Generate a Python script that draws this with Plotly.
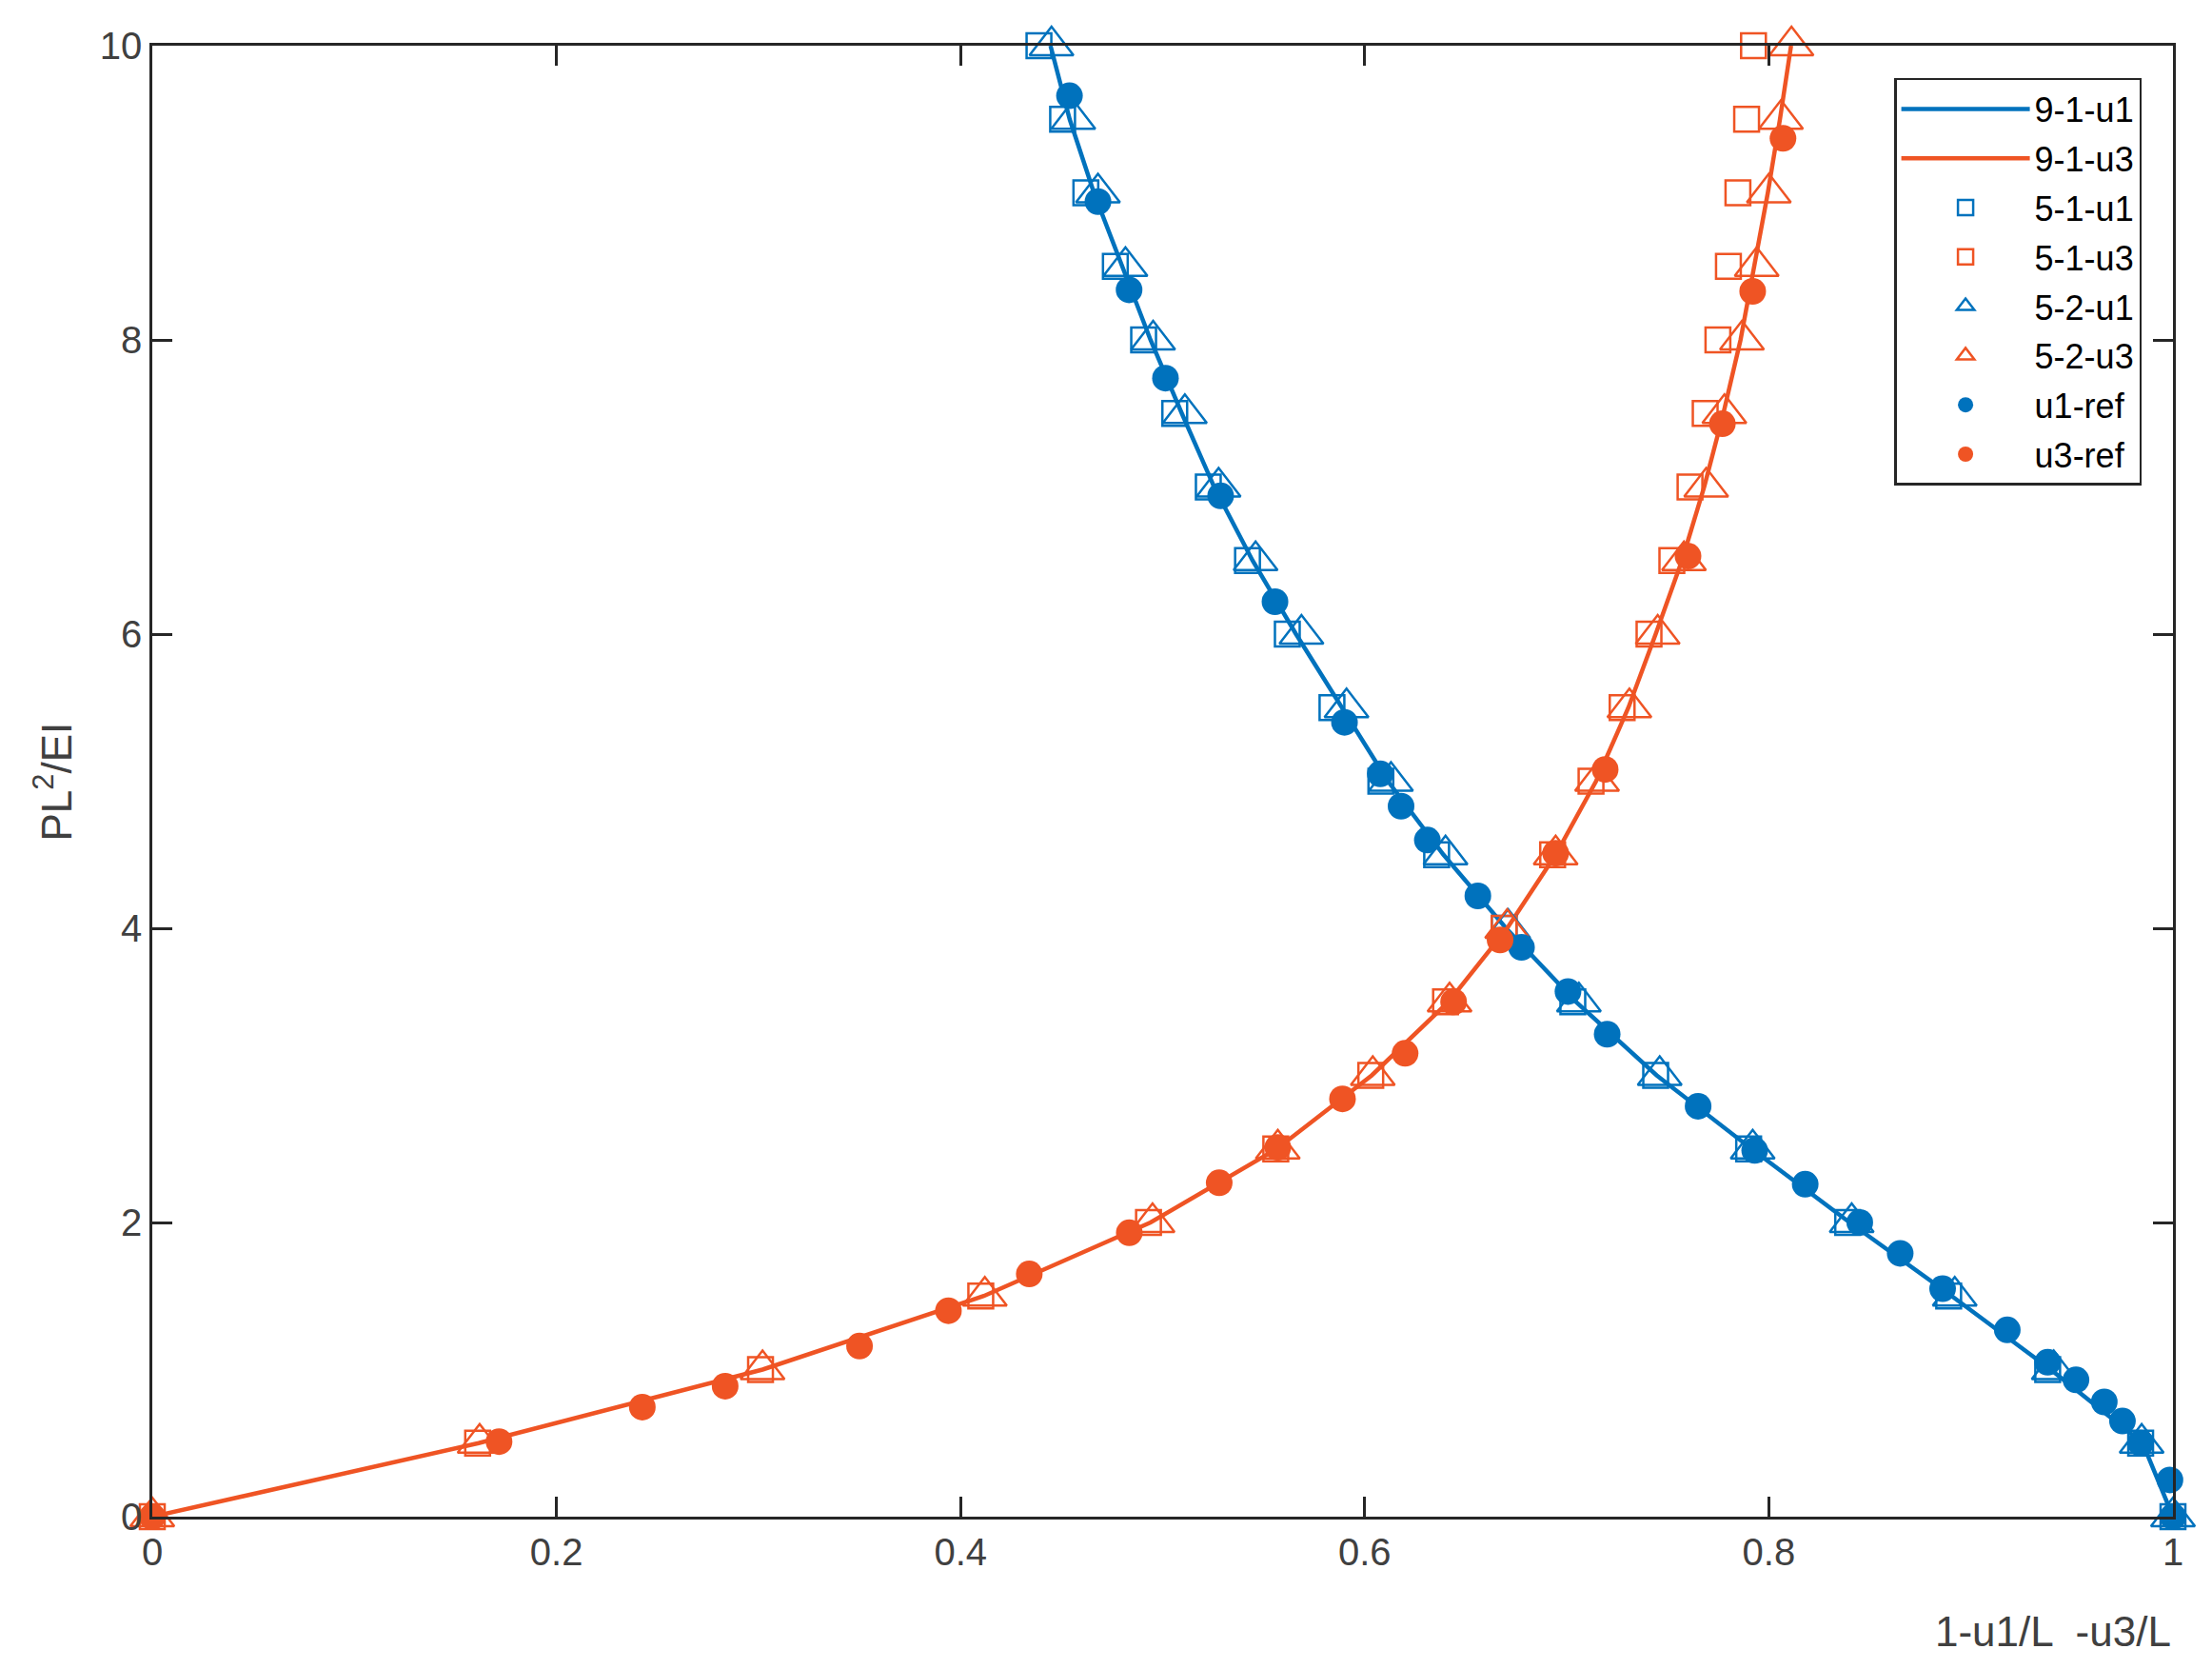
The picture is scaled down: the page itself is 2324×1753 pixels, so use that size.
import plotly.graph_objects as go

# load levels PL^2/EI (shared by the 5-x / 9-x runs)
load_steps = [0, 0.5, 1, 1.5, 2, 2.5, 3, 3.5, 4, 4.5, 5,
              5.5, 6, 6.5, 7, 7.5, 8, 8.5, 9, 9.5, 10]

# 9-1 (solid lines)
u1_91 = [1.0, 0.985, 0.9395, 0.8905, 0.840, 0.7915, 0.7445, 0.7045, 0.670, 0.639, 0.6115,
         0.5885, 0.566, 0.5445, 0.5255, 0.5095, 0.494, 0.480, 0.466, 0.454, 0.4445]
u3_91 = [0.0, 0.1615, 0.302, 0.4115, 0.494, 0.5565, 0.6035, 0.6415, 0.6705, 0.6945, 0.7145,
         0.7305, 0.744, 0.757, 0.768, 0.7775, 0.786, 0.793, 0.7995, 0.8055, 0.811]

# 5-1 (squares)
u1_51 = [1.0, 0.984, 0.938, 0.889, 0.839, 0.790, 0.744, 0.703, 0.669, 0.6356, 0.608,
         0.5838, 0.5617, 0.542, 0.5226, 0.506, 0.4906, 0.4766, 0.462, 0.4505, 0.4388]
u3_51 = [0.0, 0.161, 0.301, 0.410, 0.493, 0.556, 0.603, 0.640, 0.669, 0.693, 0.712,
         0.7274, 0.7407, 0.752, 0.761, 0.7685, 0.7748, 0.780, 0.7847, 0.789, 0.7924]

# 5-2 (triangles)
u1_52 = [1.0, 0.9845, 0.941, 0.892, 0.841, 0.792, 0.746, 0.706, 0.671, 0.640, 0.613,
         0.591, 0.5687, 0.546, 0.5277, 0.511, 0.4953, 0.4816, 0.468, 0.4558, 0.445]
u3_52 = [0.0, 0.162, 0.302, 0.412, 0.495, 0.557, 0.604, 0.642, 0.6705, 0.6945, 0.715,
         0.731, 0.745, 0.758, 0.769, 0.778, 0.7867, 0.794, 0.800, 0.806, 0.8112]

# reference solution points
u1_ref_x = [0.4539, 0.468, 0.4834, 0.5014, 0.5287, 0.5556, 0.590, 0.6077, 0.618, 0.631,
            0.656, 0.6776, 0.7006, 0.720, 0.765, 0.793, 0.818, 0.845, 0.865, 0.886,
            0.918, 0.938, 0.952, 0.966, 0.975, 0.984, 0.9985, 1.0]
u1_ref_y = [9.66, 8.94, 8.34, 7.74, 6.94, 6.22, 5.40, 5.05, 4.83, 4.60,
            4.22, 3.87, 3.57, 3.28, 2.79, 2.49, 2.26, 2.00, 1.79, 1.55,
            1.27, 1.05, 0.93, 0.78, 0.65, 0.50, 0.25, 0.0]
u3_ref_x = [0.0, 0.1716, 0.2425, 0.2835, 0.350, 0.394, 0.434, 0.4835, 0.528, 0.557, 0.589,
            0.620, 0.644, 0.667, 0.6945, 0.719, 0.760, 0.777, 0.792, 0.807]
u3_ref_y = [0.0, 0.51, 0.745, 0.887, 1.16, 1.40, 1.65, 1.93, 2.27, 2.51, 2.84,
            3.15, 3.50, 3.92, 4.51, 5.08, 6.53, 7.43, 8.33, 9.37]

x_ticks = [0, 0.2, 0.4, 0.6, 0.8, 1]
y_ticks = [0, 2, 4, 6, 8, 10]

blue = '#0072BD'
orange = '#EF5424'
axis_col = '#262626'
label_col = '#404040'
font = 'Arial, Liberation Sans, sans-serif'

fig = go.Figure()
fig.add_trace(go.Scatter(x=u1_91, y=load_steps, mode='lines', name='9-1-u1', legendgroup='a',
                         line=dict(color=blue, width=4.5), cliponaxis=False))
fig.add_trace(go.Scatter(x=u3_91, y=load_steps, mode='lines', name='9-1-u3', legendgroup='b',
                         line=dict(color=orange, width=4.5), cliponaxis=False))
fig.add_trace(go.Scatter(x=u1_51, y=load_steps, mode='markers', name='5-1-u1', legendgroup='c',
                         marker=dict(symbol='square-open', size=26, color=blue,
                                     line=dict(width=2.5)), cliponaxis=False))
fig.add_trace(go.Scatter(x=u3_51, y=load_steps, mode='markers', name='5-1-u3', legendgroup='d',
                         marker=dict(symbol='square-open', size=26, color=orange,
                                     line=dict(width=2.5)), cliponaxis=False))
fig.add_trace(go.Scatter(x=u1_52, y=load_steps, mode='markers', name='5-2-u1', legendgroup='e',
                         marker=dict(symbol='triangle-up-open', size=40, color=blue,
                                     line=dict(width=2.5)), cliponaxis=False))
fig.add_trace(go.Scatter(x=u3_52, y=load_steps, mode='markers', name='5-2-u3', legendgroup='f',
                         marker=dict(symbol='triangle-up-open', size=40, color=orange,
                                     line=dict(width=2.5)), cliponaxis=False))
fig.add_trace(go.Scatter(x=u1_ref_x, y=u1_ref_y, mode='markers', name='u1-ref', legendgroup='g',
                         marker=dict(symbol='circle', size=28, color=blue), cliponaxis=False))
fig.add_trace(go.Scatter(x=u3_ref_x, y=u3_ref_y, mode='markers', name='u3-ref', legendgroup='h',
                         marker=dict(symbol='circle', size=28, color=orange), cliponaxis=False))

fig.update_layout(width=2324, height=1753,
                  margin=dict(l=160, r=41, t=48, b=160),
                  plot_bgcolor='white',
                  paper_bgcolor='white',
                  font=dict(family=font, color=label_col),
                  showlegend=True,
                  legend=dict(x=0.9845, xanchor='right', y=0.978, yanchor='top',
                              bgcolor='white', bordercolor=axis_col, borderwidth=2.5,
                              font=dict(size=36, color='black'),
                              itemsizing='trace', itemwidth=135,
                              tracegroupgap=2),
                  annotations=[
                      dict(text='1-u1/L  -u3/L', xref='paper', yref='paper',
                           x=1.0, xanchor='right', y=-0.078, yanchor='middle',
                           showarrow=False, font=dict(size=44, color=label_col)),
                      dict(text='PL<sup>2</sup>/EI', xref='paper', yref='paper',
                           x=-0.049, xanchor='center', y=0.5, yanchor='middle',
                           textangle=-90, showarrow=False,
                           font=dict(size=44, color=label_col)),
                  ])

fig.update_xaxes(range=[0, 1],
                 tickvals=x_ticks,
                 showgrid=False,
                 zeroline=False,
                 showline=True,
                 mirror='ticks',
                 linecolor=axis_col,
                 linewidth=2.5,
                 ticks='inside',
                 ticklen=21,
                 tickwidth=2.5,
                 tickcolor=axis_col,
                 tickfont=dict(size=40, color=label_col))
fig.update_yaxes(range=[0, 10],
                 tickvals=y_ticks,
                 showgrid=False,
                 zeroline=False,
                 showline=True,
                 mirror='ticks',
                 linecolor=axis_col,
                 linewidth=2.5,
                 ticks='inside',
                 ticklen=21,
                 tickwidth=2.5,
                 tickcolor=axis_col,
                 tickfont=dict(size=40, color=label_col))

fig.write_html("out.html", config={'displayModeBar': False},
               post_script="document.body.style.margin='0';")
